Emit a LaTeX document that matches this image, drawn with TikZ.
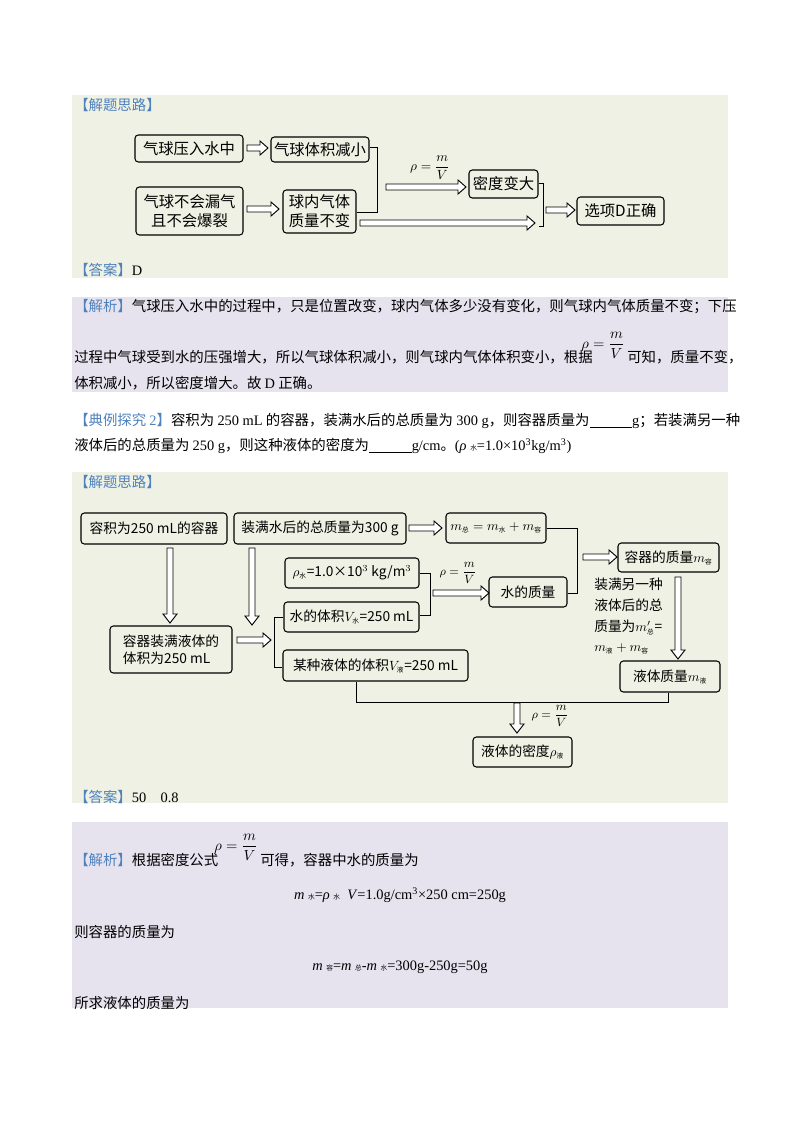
\documentclass[tikz,border=0pt]{standalone}
\usepackage{fontspec}
\usepackage{amsmath}
\setmainfont{Liberation Serif}
\newfontfamily\cjk{Noto Sans CJK SC}
\definecolor{pg}{HTML}{EEF1E3}
\definecolor{pl}{HTML}{E6E3EE}
\definecolor{lb}{HTML}{4F81BD}
\newcommand\cs[1]{\mbox{\cjk\tiny #1}}
\newcommand\la[1]{{\rmfamily #1}}
\newcommand\tg[1]{{\cjk\color{lb}【#1】}}
\newcommand\harr[3]{\draw[harrow] (#1,{#3-3}) -- ({#2-8},{#3-3}) -- ({#2-8},{#3-7}) -- (#2,#3) -- ({#2-8},{#3+7}) -- ({#2-8},{#3+3}) -- (#1,{#3+3}) -- cycle;}
\newcommand\varr[3]{\draw[harrow] ({#1-3},#2) -- ({#1-3},{#3-9}) -- ({#1-7},{#3-9}) -- (#1,#3) -- ({#1+7},{#3-9}) -- ({#1+3},{#3-9}) -- ({#1+3},#2) -- cycle;}
\begin{document}
\begin{tikzpicture}[x=0.75pt,y=-0.75pt,
  bx/.style 2 args={draw, rounded corners=2.5pt, line width=0.8pt, minimum width=#1*0.75pt, minimum height=#2*0.75pt, inner sep=1pt, align=center, font=\cjk\fontsize{11.5}{14}\selectfont},
  bs/.style 2 args={bx={#1}{#2}, font=\cjk\fontsize{10.3}{13}\selectfont},
  harrow/.style={draw, line width=0.7pt, fill=white},
  ln/.style={line width=0.7pt},
  tx/.style={anchor=west, inner sep=0pt, font=\cjk\fontsize{10.8}{13}\selectfont}]
\useasboundingbox (0,0) rectangle (800,1132);
\fill[white] (0,0) rectangle (800,1132);
% panels
\fill[pg] (72,95) rectangle (728,278);
\fill[pl] (72,297) rectangle (728,392);
\fill[pg] (72,472) rectangle (728,803);
\fill[pl] (72,822) rectangle (728,1008);
% ---- panel 1
\node[tx] at (74,105) {\tg{解题思路}};
\node[bx={108}{27}] (A) at (189,148.5) {气球压入水中};
\node[bx={98}{25}] (B) at (320,149.5) {气球体积减小};
\node[bx={107}{48}] (C) at (189.5,211) {气球不会漏气\\且不会爆裂};
\node[bx={73}{43}] (D) at (319.5,211.5) {球内气体\\质量不变};
\node[bx={69}{28}] (E) at (503.5,184) {密度变大};
\node[bx={87}{28}] (F) at (620.5,211) {选项D正确};
\harr{247}{268}{148}
\harr{247}{279}{209}
\draw[ln] (B.east |- 0,147) -- (377,147) -- (377,212) -- (D.east |- 0,212);
\harr{386}{466}{187}
\node at (430,168) {\fontsize{10}{12}\selectfont$\rho=\dfrac{m}{V}$};
\harr{360}{535}{223}
\draw[ln] (E.east |- 0,183) -- (543,183) -- (543,226) -- (539,226);
\harr{546}{575}{210}
\node[tx] at (74,270) {\tg{答案}\la{D}};
% ---- panel 2
\node[tx] at (74,307) {\tg{解析}气球压入水中的过程中，只是位置改变，球内气体多少没有变化，则气球内气体质量不变；下压};
\node[tx] at (74,357) {过程中气球受到水的压强增大，所以气球体积减小，则气球内气体体积变小，根据};
\node (f1) at (603,345) {\fontsize{11}{13}\selectfont$\rho=\dfrac{m}{V}$};
\node[tx] at (627,357) {可知，质量不变，};
\node[tx] at (74,383) {体积减小，所以密度增大。故 \la{D} 正确。};
% ---- question
\node[tx] at (74,421) {\tg{典例探究 \la{2}}容积为 \la{250 mL} 的容器，装满水后的总质量为 \la{300 g}，则容器质量为\underline{\hspace{32pt}}\la{g}；若装满另一种};
\node[tx] at (74,446) {液体后的总质量为 \la{250 g}，则这种液体的密度为\underline{\hspace{32pt}}\la{g/cm}。\la{(\textit{ρ} {\cjk\tiny 水}=1.0×10\textsuperscript{3}kg/m\textsuperscript{3})}};
% ---- panel 3
\node[tx] at (74,482) {\tg{解题思路}};
\node[bs={146}{31}] (G) at (154,528.5) {容积为250 mL的容器};
\node[bs={172}{31}] (H) at (320,528.5) {装满水后的总质量为300 g};
\node[bs={100}{30}] (I) at (496,528) {$m_{\cs{总}}=m_{\cs{水}}+m_{\cs{容}}$};
\harr{409}{442}{528}
\node[bs={134}{30}] (J) at (352,573) {$\rho_{\cs{水}}$=1.0×10$^3$ kg/m$^3$};
\node[bs={101}{29}] (M) at (668.5,557.5) {容器的质量$m_{\cs{容}}$};
\node[bs={78}{30}] (K) at (528,592) {水的质量};
\node[bs={135}{30}] (W) at (351.5,617) {水的体积$V_{\cs{水}}$=250 mL};
\node[bs={122}{47}, align=left] (L) at (171,649.5) {容器装满液体的\\体积为250 mL};
\node[bs={185}{31}] (S) at (375.5,665.5) {某种液体的体积$V_{\cs{液}}$=250 mL};
\node[bs={100}{31}] (LM) at (670,676.5) {液体质量$m_{\cs{液}}$};
\node[bs={99}{30}] (LD) at (522.5,752) {液体的密度$\rho_{\cs{液}}$};
\varr{170}{548}{623}
\varr{252}{548}{625}
\harr{237}{271}{640}
\draw[ln] (W.west) -- (274,617) -- (274,667) -- (S.west |- 0,667);
\draw[ln] (J.east) -- (430,573) -- (430,615) -- (W.east |- 0,615);
\harr{433}{489}{593}
\node at (458,573) {\fontsize{9.5}{11}\selectfont$\rho=\dfrac{m}{V}$};
\draw[ln] (I.east) -- (577,528) -- (577,593) -- (K.east |- 0,593);
\harr{583}{617}{557}
\varr{678}{577}{659}
\node[anchor=north west, inner sep=0pt, align=left, font=\cjk\fontsize{10.3}{15.5}\selectfont] (T) at (594,578) {装满另一种\\液体后的总\\质量为$m'_{\cs{总}}$=\\$m_{\cs{液}}+m_{\cs{容}}$};
\draw[ln] (S.south -| 356,0) -- (356,702) -- (668,702) -- (LM.south -| 668,0);
\varr{517}{703}{733}
\node at (550,716) {\fontsize{9.5}{11}\selectfont$\rho=\dfrac{m}{V}$};
\node[tx] at (74,797) {\tg{答案}\la{50\quad 0.8}};
% ---- panel 4
\node[tx] at (74,860) {\tg{解析}根据密度公式};
\node (f2) at (236,847) {\fontsize{11}{13}\selectfont$\rho=\dfrac{m}{V}$};
\node[tx] at (260,860) {可得，容器中水的质量为};
\node[inner sep=0pt] at (400,895) {\la{\fontsize{10.8}{13}\selectfont\textit{m} {\cjk\tiny 水}=\textit{ρ} {\cjk\tiny 水}\ \ \textit{V}=1.0g/cm\textsuperscript{3}×250 cm=250g}};
\node[tx] at (74,932) {则容器的质量为};
\node[inner sep=0pt] at (400,967) {\la{\fontsize{10.8}{13}\selectfont\textit{m} {\cjk\tiny 容}=\textit{m} {\cjk\tiny 总}-\textit{m} {\cjk\tiny 水}=300g-250g=50g}};
\node[tx] at (74,1003) {所求液体的质量为};
\end{tikzpicture}
\end{document}
